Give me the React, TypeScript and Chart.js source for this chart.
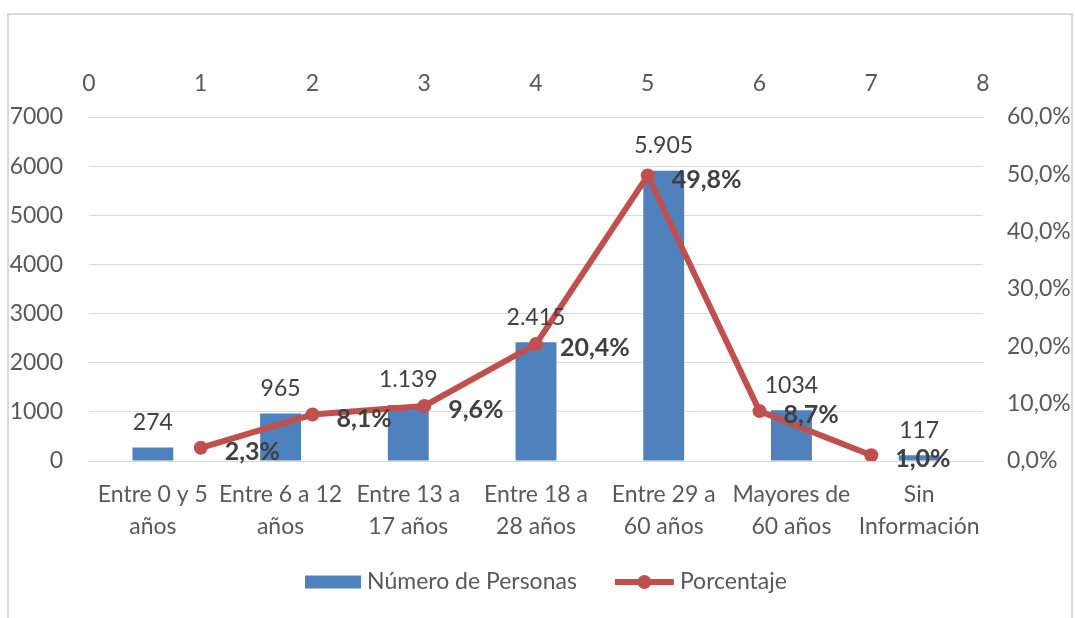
import React, { useEffect, useRef } from "react";
import { Chart, registerables } from "chart.js";

Chart.register(...registerables);

// ---- data ----
const categories: string[][] = [
  ["Entre 0 y 5", "años"],
  ["Entre 6 a 12", "años"],
  ["Entre 13 a", "17 años"],
  ["Entre 18 a", "28 años"],
  ["Entre 29 a", "60 años"],
  ["Mayores de", "60 años"],
  ["Sin", "Información"],
];
const personas: number[] = [274, 965, 1139, 2415, 5905, 1034, 117];
const personasLabels: string[] = ["274", "965", "1.139", "2.415", "5.905", "1034", "117"];
const porcentaje: number[] = [2.3, 8.1, 9.6, 20.4, 49.8, 8.7, 1.0];
const porcentajeX: number[] = [1, 2, 3, 4, 5, 6, 7];
const seriesNames: string[] = ["Número de Personas", "Porcentaje"];

const FONT = "Lato, 'Open Sans', sans-serif";
const FS = 23;
const BOLD_FS = 25;
const BLUE = "#4F81BD";
const RED = "#C0504D";
const AXIS_TEXT = "#595959";
const LABEL_TEXT = "#404040";

const decorPlugin = {
  id: "decor",
  beforeDraw(chart: any) {
    const ctx = chart.ctx;
    ctx.save();
    ctx.strokeStyle = "#d9d9d9";
    ctx.lineWidth = 2;
    ctx.strokeRect(8, 14, 1064, 700);
    ctx.restore();
  },
  afterDatasetsDraw(chart: any) {
    const ctx = chart.ctx;
    ctx.save();
    // bar value labels
    const barMeta = chart.getDatasetMeta(0);
    ctx.font = `${FS}px ${FONT}`;
    ctx.fillStyle = LABEL_TEXT;
    ctx.textAlign = "center";
    ctx.textBaseline = "middle";
    barMeta.data.forEach((el: any, i: number) => {
      ctx.fillText(personasLabels[i], el.x, el.y - 25);
    });
    // percentage labels
    const lineMeta = chart.getDatasetMeta(1);
    ctx.font = `bold ${BOLD_FS}px ${FONT}`;
    ctx.textAlign = "left";
    lineMeta.data.forEach((pt: any, i: number) => {
      const txt = porcentaje[i].toFixed(1).replace(".", ",") + "%";
      ctx.fillText(txt, pt.x + 24, pt.y + 4);
    });
    ctx.restore();
  },
  afterDraw(chart: any) {
    const ctx = chart.ctx;
    ctx.save();
    ctx.font = `${FS}px ${FONT}`;
    const w1 = ctx.measureText(seriesNames[0]).width;
    const w2 = ctx.measureText(seriesNames[1]).width;
    const sw1 = 56, sw2 = 59, g = 6, gap = 38;
    const total = sw1 + g + w1 + gap + sw2 + g + w2;
    const cx = 546;
    const cy = chart.chartArea.bottom + 121;
    let x = cx - total / 2;
    ctx.fillStyle = BLUE;
    ctx.fillRect(x, cy - 6.5, sw1, 13);
    x += sw1 + g;
    ctx.fillStyle = AXIS_TEXT;
    ctx.textAlign = "left";
    ctx.textBaseline = "middle";
    ctx.fillText(seriesNames[0], x, cy);
    x += w1 + gap;
    ctx.strokeStyle = RED;
    ctx.lineWidth = 6;
    ctx.beginPath();
    ctx.moveTo(x, cy);
    ctx.lineTo(x + sw2, cy);
    ctx.stroke();
    ctx.fillStyle = RED;
    ctx.beginPath();
    ctx.arc(x + sw2 / 2, cy, 7, 0, Math.PI * 2);
    ctx.fill();
    x += sw2 + g;
    ctx.fillStyle = AXIS_TEXT;
    ctx.fillText(seriesNames[1], x, cy);
    ctx.restore();
  },
};

export default function App() {
  const ref = useRef<HTMLCanvasElement | null>(null);

  useEffect(() => {
    if (!ref.current) return;
    const chart = new Chart(ref.current, {
      type: "bar",
      data: {
        labels: categories as any,
        datasets: [
          {
            type: "bar",
            label: seriesNames[0],
            data: personas,
            backgroundColor: BLUE,
            xAxisID: "x",
            yAxisID: "y",
            barPercentage: 0.32,
            categoryPercentage: 1,
            grouped: false,
            order: 2,
          } as any,
          {
            type: "line",
            label: seriesNames[1],
            data: porcentajeX.map((xv, i) => ({ x: xv, y: porcentaje[i] })),
            borderColor: RED,
            backgroundColor: RED,
            borderWidth: 6,
            pointRadius: 7,
            pointBackgroundColor: RED,
            pointBorderWidth: 0,
            tension: 0,
            xAxisID: "xTop",
            yAxisID: "y2",
            order: 1,
          } as any,
        ],
      },
      options: {
        responsive: false,
        animation: false,
        layout: { padding: 0 },
        plugins: {
          legend: { display: false },
          tooltip: { enabled: false },
        },
        scales: {
          x: {
            type: "category",
            position: "bottom",
            offset: true,
            grid: { display: false, drawTicks: false },
            border: { display: false },
            ticks: {
              font: { family: FONT, size: FS, lineHeight: 32 / FS },
              color: AXIS_TEXT,
              padding: 18,
              maxRotation: 0,
              autoSkip: false,
            },
            afterFit: (s: any) => {
              s.height = 157;
            },
          },
          xTop: {
            type: "linear",
            position: "top",
            min: 0,
            max: 8,
            offset: false,
            grid: { display: false, offset: false, drawTicks: false },
            border: { display: false },
            ticks: {
              stepSize: 1,
              font: { family: FONT, size: FS },
              color: AXIS_TEXT,
              padding: 20,
            },
            afterFit: (s: any) => {
              s.height = 117;
            },
          },
          y: {
            type: "linear",
            position: "left",
            min: 0,
            max: 7000,
            grid: { color: "#d9d9d9", lineWidth: 1, drawTicks: false },
            border: { display: false },
            ticks: {
              stepSize: 1000,
              font: { family: FONT, size: FS },
              color: AXIS_TEXT,
              padding: 26,
              callback: (v: any) => String(v),
            },
            afterFit: (s: any) => {
              s.width = 89;
            },
          },
          y2: {
            type: "linear",
            position: "right",
            min: 0,
            max: 60,
            grid: { display: false, drawTicks: false },
            border: { display: false },
            ticks: {
              stepSize: 10,
              font: { family: FONT, size: FS },
              color: AXIS_TEXT,
              padding: 24,
              callback: (v: any) => Number(v).toFixed(1).replace(".", ",") + "%",
            },
            afterFit: (s: any) => {
              s.width = 92;
            },
          },
        },
      } as any,
      plugins: [decorPlugin],
    });
    return () => chart.destroy();
  }, []);

  return (
    <div style={{ position: "absolute", left: 0, top: 0, width: 1075, height: 618, background: "#fff" }}>
      <canvas ref={ref} width={1075} height={618} />
    </div>
  );
}
